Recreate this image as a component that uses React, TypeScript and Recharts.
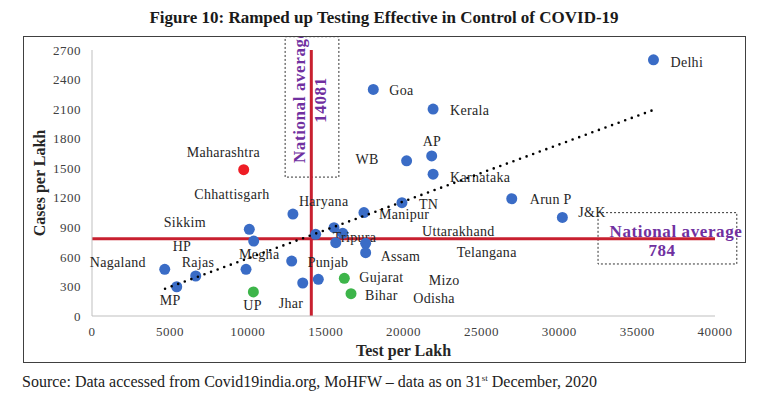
import React from 'react';
import { ScatterChart, Scatter, XAxis, YAxis, ReferenceLine, ReferenceArea, Label } from 'recharts';

const states = [
  'Delhi', 'Goa', 'Kerala', 'AP', 'WB', 'Karnataka', 'Arun P', 'J&K', 'TN', 'Manipur',
  'Haryana', 'Chhattisgarh', 'HP', 'Sikkim', 'Megha', 'Punjab', 'Nagaland', 'Rajas', 'MP', 'UP',
  'Jhar', 'Odisha', 'Gujarat', 'Bihar', 'Uttarakhand', 'Tripura', 'Mizo', 'Telangana', 'Assam', 'Maharashtra',
];
const testsPerLakh = [
  36050, 18060, 21900, 21810, 20200, 21900, 26950, 30200, 19900, 17460,
  12900, 10100, 10380, 14360, 9890, 12820, 4670, 6660, 5440, 10360,
  13530, 14530, 16200, 16630, 15540, 16100, 15650, 17570, 17570, 9740,
];
const casesPerLakh = [
  2600, 2300, 2100, 1625, 1575, 1440, 1190, 1000, 1150, 1050,
  1035, 880, 761, 829, 474, 558, 474, 406, 297, 244,
  335, 372, 383, 227, 896, 839, 744, 738, 643, 1485,
];
// colour group of each state in the source figure
const groups = [
  'blue', 'blue', 'blue', 'blue', 'blue', 'blue', 'blue', 'blue', 'blue', 'blue',
  'blue', 'blue', 'blue', 'blue', 'blue', 'blue', 'blue', 'blue', 'blue', 'green',
  'blue', 'blue', 'green', 'green', 'blue', 'blue', 'blue', 'blue', 'blue', 'red',
];
const xTicks = [0, 5000, 10000, 15000, 20000, 25000, 30000, 35000, 40000];
const yTicks = [0, 300, 600, 900, 1200, 1500, 1800, 2100, 2400, 2700];
const trendX = [4690, 36040];
const trendY = [277, 2091];
const avgTests = 14081;
const avgCases = 784;

const COLORS: Record<string, string> = { blue: '#3A6CC6', green: '#3DB54A', red: '#EE1D25' };
const PURPLE = '#7030A0';
const FONT = '"Liberation Serif", "DejaVu Serif", serif';

// label offset from the dot centre: [dx to left edge of text, dy to text middle]
const LABEL_OFFSETS: Record<string, [number, number]> = {
  Delhi: [17, 3], Goa: [16, 1], Kerala: [17, 1], AP: [-9, -14], WB: [-51, -1],
  Karnataka: [17, 3], 'Arun P': [18, 1], 'J&K': [16, -5], TN: [17, 2], Manipur: [15, 2],
  Haryana: [6, -13], Chhattisgarh: [-55, -35], HP: [-81, 5], Sikkim: [-152, -12], Megha: [-7, -15],
  Punjab: [16, 1], Nagaland: [-75, -7], Rajas: [-14, -14], MP: [-17, 14], UP: [-10, 14],
  Jhar: [-24, 21], Odisha: [95, 19], Gujarat: [15, -1], Bihar: [14, 2], Uttarakhand: [88, 4],
  Tripura: [-10, 4], Mizo: [93, 38], Telangana: [91, 9], Assam: [15, 4], Maharashtra: [-57, -17],
};

const points = states.map((name, i) => ({ name, x: testsPerLakh[i], y: casesPerLakh[i], group: groups[i] }));
const trend = trendX.map((x, i) => ({ x, y: trendY[i] }));

const StateDot = (props: any) => {
  const { cx, cy, payload } = props;
  const [dx, dy] = LABEL_OFFSETS[payload.name] || [10, 0];
  return (
    <g>
      <circle cx={cx} cy={cy} r={5.5} fill={COLORS[payload.group]} />
      <text x={cx + dx} y={cy + dy} dominantBaseline="central" fontSize={14} letterSpacing={0.3} fill="#262626" fontFamily={FONT}>
        {payload.name}
      </text>
    </g>
  );
};

const VerticalAvgLabel = (props: any) => {
  const { x, y, height } = props.viewBox;
  const bx = x + 20;
  const by = y + height - 14;
  return (
    <g>
      <defs>
        <clipPath id="frameClip">
          <rect x={0} y={37} width={768} height={362} />
        </clipPath>
      </defs>
      <g clipPath="url(#frameClip)" fontFamily={FONT} fontWeight="bold" fontSize={17} fill={PURPLE} letterSpacing={0.6}>
        <text x={bx} y={by} transform={`rotate(-90, ${bx}, ${by})`} textAnchor="start">National average</text>
        <text x={x + 41} y={100} transform={`rotate(-90, ${x + 41}, 100)`} textAnchor="middle">{avgTests}</text>
      </g>
    </g>
  );
};

const HorizontalAvgLabel = (props: any) => {
  const { x, y } = props.viewBox;
  return (
    <g fontFamily={FONT} fontWeight="bold" fontSize={17} fill={PURPLE} letterSpacing={0.6}>
      <text x={x + 78} y={y + 24} textAnchor="middle">National average</text>
      <text x={x + 64} y={y + 43} textAnchor="middle">{avgCases}</text>
    </g>
  );
};

const tickStyle = { fontSize: 13, fill: '#404040', fontFamily: FONT, letterSpacing: 0.5 };

export default function App() {
  return (
    <div style={{ position: 'absolute', left: 0, top: 0, width: 768, height: 399, background: '#fff', fontFamily: FONT }}>
      <div style={{ position: 'absolute', top: 7, left: 0, width: 768, textAlign: 'center', fontWeight: 'bold', fontSize: 17, lineHeight: '22px', color: '#1a1a1a' }}>
        Figure 10: Ramped up Testing Effective in Control of COVID-19
      </div>
      <div style={{ position: 'absolute', left: 0, top: 0 }}>
        <ScatterChart width={768} height={399} margin={{ top: 50, right: 53, bottom: 53, left: 32 }}>
          <XAxis
            type="number"
            dataKey="x"
            domain={[0, 40000]}
            ticks={xTicks}
            tickLine={false}
            tickSize={6}
            tickMargin={5}
            height={30}
            axisLine={{ stroke: '#BFBFBF' }}
            tick={tickStyle}
            label={
              <Label
                content={(p: any) => (
                  <text x={p.viewBox.x + p.viewBox.width / 2} y={p.viewBox.y + 40} textAnchor="middle" fontFamily={FONT} fontWeight="bold" fontSize={16} fill="#262626">
                    Test per Lakh
                  </text>
                )}
              />
            }
          />
          <YAxis
            type="number"
            dataKey="y"
            domain={[0, 2700]}
            ticks={yTicks}
            tickLine={false}
            tickSize={6}
            tickMargin={5}
            width={60}
            axisLine={{ stroke: '#BFBFBF' }}
            tick={tickStyle}
            label={
              <Label
                content={(p: any) => {
                  const lx = p.viewBox.x + 13;
                  const ly = p.viewBox.y + p.viewBox.height / 2;
                  return (
                    <text x={lx} y={ly} transform={`rotate(-90, ${lx}, ${ly})`} textAnchor="middle" fontFamily={FONT} fontWeight="bold" fontSize={16} fill="#262626">
                      Cases per Lakh
                    </text>
                  );
                }}
              />
            }
          />
          <ReferenceLine y={avgCases} stroke="#C8202F" strokeWidth={3} />
          <ReferenceLine x={avgTests} stroke="#C8202F" strokeWidth={3} />
          <ReferenceArea
            x1={12400}
            x2={15850}
            y1={1410}
            y2={2835}
            ifOverflow="visible"
            fill="none"
            stroke="#333"
            strokeDasharray="2 2"
            label={<Label content={VerticalAvgLabel} />}
          />
          <ReferenceArea
            x1={32490}
            x2={41400}
            y1={528}
            y2={1049}
            ifOverflow="visible"
            fill="none"
            stroke="#333"
            strokeDasharray="2 2"
            label={<Label content={HorizontalAvgLabel} />}
          />
          <Scatter data={points} shape={StateDot} isAnimationActive={false} />
          <Scatter
            data={trend}
            shape={() => <g />}
            line={{ stroke: '#000', strokeWidth: 2.6, strokeDasharray: '0 7', strokeLinecap: 'round' }}
            isAnimationActive={false}
          />
        </ScatterChart>
      </div>
      <div style={{ position: 'absolute', left: 23, top: 36, width: 723, height: 327, border: '1.5px solid #404040', boxSizing: 'border-box', pointerEvents: 'none' }} />
      <div style={{ position: 'absolute', left: 22, top: 367, fontSize: 16, lineHeight: '22px', color: '#222', whiteSpace: 'nowrap' }}>
        Source: Data accessed from Covid19india.org, MoHFW – data as on 31<sup style={{ fontSize: 9 }}>st</sup> December, 2020
      </div>
    </div>
  );
}
